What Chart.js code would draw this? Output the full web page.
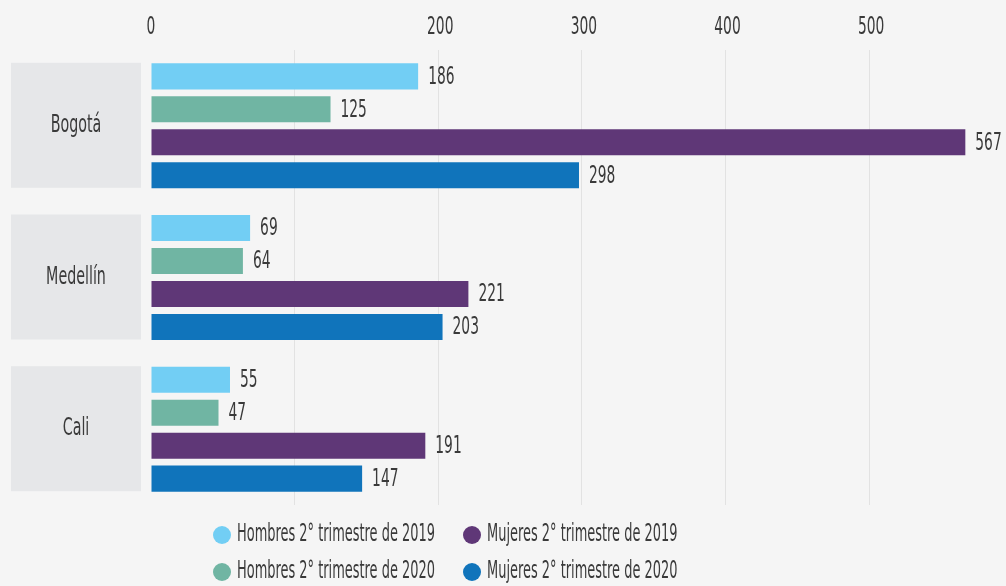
<!DOCTYPE html>
<html>
<head>
<meta charset="utf-8">
<script src="https://cdn.jsdelivr.net/npm/chart.js@4"></script>
<style>
  html, body { margin: 0; padding: 0; background: #f5f5f5; }
</style>
</head>
<body>
<canvas id="myChart" width="1006" height="586"></canvas>
<script>
const cities = ['Bogotá', 'Medellín', 'Cali'];
const hombres2019 = [186, 69, 55];
const hombres2020 = [125, 64, 47];
const mujeres2019 = [567, 221, 191];
const mujeres2020 = [298, 203, 147];
const seriesLabels = [
  'Hombres 2° trimestre de 2019',
  'Hombres 2° trimestre de 2020',
  'Mujeres 2° trimestre de 2019',
  'Mujeres 2° trimestre de 2020'
];
const colors = ['#72cef4', '#70b5a3', '#5f3777', '#1074bb'];
const tickLabels = [0, 200, 300, 400, 500];

const FONT = '"Liberation Sans Narrow", "DejaVu Sans Condensed", sans-serif';
const TEXT = '#3a3a3a';
Chart.defaults.font.family = FONT;
Chart.defaults.color = TEXT;

const ctx = document.getElementById('myChart');

// the original uses a very narrow font, so squeeze the text horizontally
function narrowText(c, text, x, y, size, sx, align) {
  c.save();
  c.font = size + 'px ' + FONT;
  c.textAlign = align;
  c.textBaseline = 'middle';
  c.translate(x, y);
  c.scale(sx, 1);
  c.fillText(text, 0, 0);
  c.restore();
}

// page background, grey boxes with city names, top tick labels
const boxes = {
  id: 'boxes',
  beforeDraw(chart) {
    const c = chart.ctx;
    c.save();
    c.fillStyle = '#f5f5f5';
    c.fillRect(0, 0, chart.width, chart.height);
    const y = chart.scales.y;
    cities.forEach((city, i) => {
      const mid = y.getPixelForValue(i);
      c.fillStyle = '#e6e7e9';
      c.fillRect(11, mid - 63, 130, 125);
      c.fillStyle = TEXT;
      narrowText(c, city, 76, mid, 24, 0.66, 'center');
    });
    const x = chart.scales.x;
    tickLabels.forEach(v => {
      narrowText(c, String(v), x.getPixelForValue(v) + (v ? 2 : 0), 28, 24, 0.64, 'center');
    });
    c.restore();
  }
};

// numbers at the end of each bar
const valueLabels = {
  id: 'valueLabels',
  afterDatasetsDraw(chart) {
    const c = chart.ctx;
    c.save();
    c.fillStyle = TEXT;
    chart.data.datasets.forEach((ds, di) => {
      chart.getDatasetMeta(di).data.forEach((bar, i) => {
        narrowText(c, String(ds.data[i]), bar.x + 10, bar.y + 1, 24, 0.64, 'left');
      });
    });
    c.restore();
  }
};

// legend in two columns (hombres | mujeres)
const twoColLegend = {
  id: 'twoColLegend',
  afterDraw(chart) {
    const c = chart.ctx;
    c.save();
    chart.data.datasets.forEach((ds, i) => {
      const col = Math.floor(i / 2);
      const row = i % 2;
      const cx = 222 + col * 250;
      const cy = 535 + row * 37;
      c.fillStyle = ds.backgroundColor;
      c.beginPath();
      c.arc(cx, cy, 9, 0, Math.PI * 2);
      c.fill();
      c.fillStyle = TEXT;
      narrowText(c, ds.label, cx + 15, cy, 24, 0.6, 'left');
    });
    c.restore();
  }
};

new Chart(ctx, {
  type: 'bar',
  data: {
    labels: cities,
    datasets: [
      { label: seriesLabels[0], data: hombres2019, backgroundColor: colors[0] },
      { label: seriesLabels[1], data: hombres2020, backgroundColor: colors[1] },
      { label: seriesLabels[2], data: mujeres2019, backgroundColor: colors[2] },
      { label: seriesLabels[3], data: mujeres2020, backgroundColor: colors[3] }
    ]
  },
  options: {
    indexAxis: 'y',
    responsive: false,
    animation: false,
    categoryPercentage: 0.87,
    barPercentage: 0.79,
    layout: { padding: { top: 0, right: 22, bottom: 81, left: 0 } },
    plugins: {
      legend: { display: false },
      tooltip: { enabled: false }
    },
    scales: {
      x: {
        position: 'top',
        min: 0,
        max: 580,
        afterFit: s => { s.height = 50; },
        border: { display: false },
        grid: {
          drawTicks: false,
          color: c => (c.tick && c.tick.value > 0 && c.tick.value <= 500) ? '#e2e2e2' : 'transparent'
        },
        ticks: { display: false, stepSize: 100 }
      },
      y: {
        afterFit: s => { s.width = 151; },
        border: { display: false },
        grid: { display: false, drawTicks: false },
        ticks: { display: false }
      }
    }
  },
  plugins: [boxes, valueLabels, twoColLegend]
});
</script>
</body>
</html>
